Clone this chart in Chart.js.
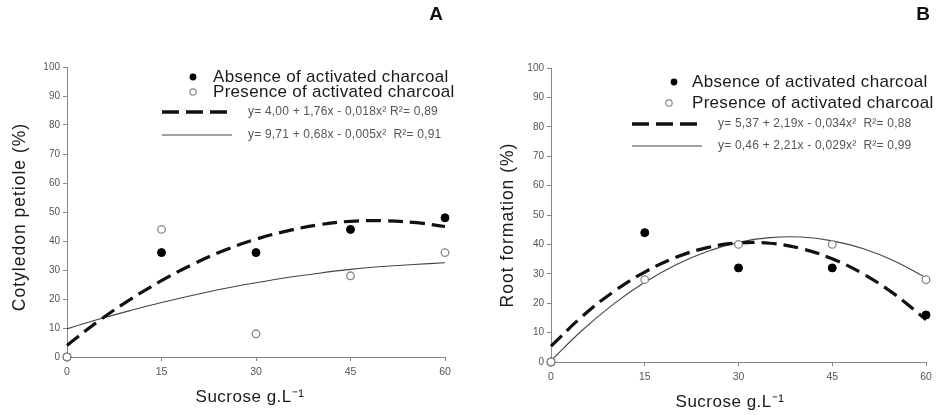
<!DOCTYPE html>
<html><head><meta charset="utf-8">
<script src="https://cdn.jsdelivr.net/npm/chart.js@4.4.1/dist/chart.umd.min.js"></script>
<style>
html,body{margin:0;padding:0;background:#fff;width:940px;height:415px;overflow:hidden}
.wrap{position:absolute;top:0;width:470px;height:415px}
</style></head><body>
<div class="wrap" style="left:0"><canvas id="cA" width="470" height="415"></canvas></div>
<div class="wrap" style="left:470px"><canvas id="cB" width="470" height="415"></canvas></div>
<script>
const sucrose = [0, 15, 30, 45, 60];
const petioleAbsence = [0, 36, 36, 44, 48];
const petiolePresence = [0, 44, 8, 28, 36];
const rootAbsence = [0, 44, 32, 32, 16];
const rootPresence = [0, 28, 40, 40, 28];
const fitX = [0, 5, 10, 15, 20, 25, 30, 35, 40, 45, 50, 55, 60];
const petioleFitAbsence = [4, 12.4, 19.8, 26.3, 32, 36.8, 40.6, 43.5, 45.6, 46.8, 47, 46.4, 45];
const petioleFitPresence = [9.7, 13, 16, 18.8, 21.3, 23.6, 25.6, 27.4, 28.9, 30.2, 31.2, 31.9, 32.5];
const rootFitAbsence = [5.4, 15.5, 23.9, 30.6, 35.6, 38.9, 40.5, 40.4, 38.6, 35.1, 29.9, 23, 14.4];
const rootFitPresence = [0.5, 10.8, 19.7, 27.1, 33.1, 37.6, 40.7, 42.3, 42.5, 41.2, 38.5, 34.3, 28.7];
const xTicks = [0, 15, 30, 45, 60];
const yTicks = [0, 10, 20, 30, 40, 50, 60, 70, 80, 90, 100];
const legendLabels = ['Absence of activated charcoal', 'Presence of activated charcoal'];
const equationsA = ['y= 4,00 + 1,76x - 0,018x\u00b2 R\u00b2= 0,89', 'y= 9,71 + 0,68x - 0,005x\u00b2  R\u00b2= 0,91'];
const equationsB = ['y= 5,37 + 2,19x - 0,034x\u00b2  R\u00b2= 0,88', 'y= 0,46 + 2,21x - 0,029x\u00b2  R\u00b2= 0,99'];
const xTitle = 'Sucrose g.L\u207b\u00b9';
const yTitleA = 'Cotyledon petiole (%)';
const yTitleB = 'Root formation (%)';

const FONT = '"Liberation Sans", Arial, sans-serif';

const panelText = {
  id: 'panelText',
  afterDraw(chart, args, o) {
    const c = chart.ctx;
    c.save();
    c.textBaseline = 'middle';
    c.textAlign = 'left';
    // legend markers
    c.fillStyle = '#000';
    c.beginPath(); c.arc(o.dot1X, o.row1, 3.4, 0, Math.PI * 2); c.fill();
    c.fillStyle = '#fff'; c.strokeStyle = '#888'; c.lineWidth = 1.2;
    c.beginPath(); c.arc(o.dot2X, o.row2, 3.2, 0, Math.PI * 2); c.fill(); c.stroke();
    c.fillStyle = '#1a1a1a';
    c.font = '17px ' + FONT;
    c.letterSpacing = '0.3px';
    c.fillText(legendLabels[0], o.textX, o.row1);
    c.fillText(legendLabels[1], o.textX, o.row2);
    // line samples
    c.strokeStyle = '#111'; c.lineWidth = 3.5; c.setLineDash([17, 7]);
    c.beginPath(); c.moveTo(o.lineX0, o.row3); c.lineTo(o.lineX1, o.row3); c.stroke();
    c.setLineDash([]); c.lineWidth = 1; c.strokeStyle = '#444';
    c.beginPath(); c.moveTo(o.lineX0, o.row4); c.lineTo(o.lineX1, o.row4); c.stroke();
    c.letterSpacing = '0.2px';
    c.font = '12px ' + FONT; c.fillStyle = '#555';
    c.fillText(o.eq[0], o.eqX, o.row3);
    c.fillText(o.eq[1], o.eqX, o.row4);
    // axis titles
    c.fillStyle = '#1a1a1a';
    c.font = '17px ' + FONT;
    c.letterSpacing = '0.5px';
    c.textAlign = 'center';
    c.fillText(xTitle, o.xTitleX, o.xTitleY);
    c.save();
    c.translate(o.yTitleX, o.yTitleY); c.rotate(-Math.PI / 2);
    c.font = '17.5px ' + FONT;
    c.letterSpacing = '1px';
    c.fillText(o.yTitle, 0, 0);
    c.restore();
    // panel letter
    c.letterSpacing = '0px';
    c.font = 'bold 19px ' + FONT; c.fillStyle = '#111';
    c.fillText(o.letter, o.letterX, o.letterY);
    c.restore();
  }
};

function pts(xs, ys) { return xs.map((x, i) => ({ x: x, y: ys[i] })); }

function makeChart(id, absence, presence, fitAbs, fitPres, geo, txt) {
  return new Chart(document.getElementById(id), {
    type: 'scatter',
    data: {
      datasets: [
        { data: pts(sucrose, presence), order: 0, pointRadius: 3.8, pointBackgroundColor: '#fff', pointBorderColor: '#888', pointBorderWidth: 1.3, showLine: false, clip: false },
        { data: pts(sucrose, absence), order: 1, pointRadius: 4, pointBackgroundColor: '#000', pointBorderColor: '#000', pointBorderWidth: 1, showLine: false, clip: false },
        { data: pts(fitX, fitAbs), order: 2, showLine: true, pointRadius: 0, borderColor: '#111', borderWidth: 3.2, borderDash: [15, 7], tension: 0.4, clip: false },
        { data: pts(fitX, fitPres), order: 3, showLine: true, pointRadius: 0, borderColor: '#444', borderWidth: 1.1, tension: 0.4, clip: false }
      ]
    },
    options: {
      responsive: false,
      animation: false,
      events: [],
      layout: { padding: { left: 0, right: geo.padRight, top: geo.top, bottom: 0 } },
      plugins: { legend: { display: false }, tooltip: { enabled: false }, panelText: txt },
      scales: {
        x: {
          type: 'linear', min: 0, max: 60,
          afterBuildTicks: s => { s.ticks = xTicks.map(v => ({ value: v })); },
          afterFit: s => { s.height = geo.xHeight; },
          grid: { display: true, drawOnChartArea: false, drawTicks: true, tickLength: 4, color: '#888' },
          border: { display: true, color: '#888', width: 1 },
          ticks: { color: '#555', font: { size: 10.5, family: FONT }, padding: 5, maxRotation: 0 }
        },
        y: {
          type: 'linear', min: 0, max: 100,
          afterBuildTicks: s => { s.ticks = yTicks.map(v => ({ value: v })); },
          afterFit: s => { s.width = geo.yWidth; },
          grid: { display: true, drawOnChartArea: false, drawTicks: true, tickLength: 4, color: '#888' },
          border: { display: true, color: '#888', width: 1 },
          ticks: { color: '#555', font: { size: 10, family: FONT }, padding: 3 }
        }
      }
    },
    plugins: [panelText]
  });
}

makeChart('cA', petioleAbsence, petiolePresence, petioleFitAbsence, petioleFitPresence,
  { padRight: 25, top: 67, xHeight: 58, yWidth: 67 },
  { dot1X: 193, dot2X: 193, row1: 77, row2: 92, textX: 213, row3: 112, row4: 135, lineX0: 162, lineX1: 232, eqX: 248,
    eq: equationsA, xTitleX: 250, xTitleY: 397, yTitleX: 20, yTitleY: 217, yTitle: yTitleA, letter: 'A', letterX: 436, letterY: 15 });

makeChart('cB', rootAbsence, rootPresence, rootFitAbsence, rootFitPresence,
  { padRight: 14, top: 68, xHeight: 53, yWidth: 81 },
  { dot1X: 204, dot2X: 199, row1: 82, row2: 103, textX: 222, row3: 124, row4: 146, lineX0: 162, lineX1: 232, eqX: 248,
    eq: equationsB, xTitleX: 260, xTitleY: 402, yTitleX: 38, yTitleY: 225, yTitle: yTitleB, letter: 'B', letterX: 453, letterY: 15 });
</script>
</body></html>
